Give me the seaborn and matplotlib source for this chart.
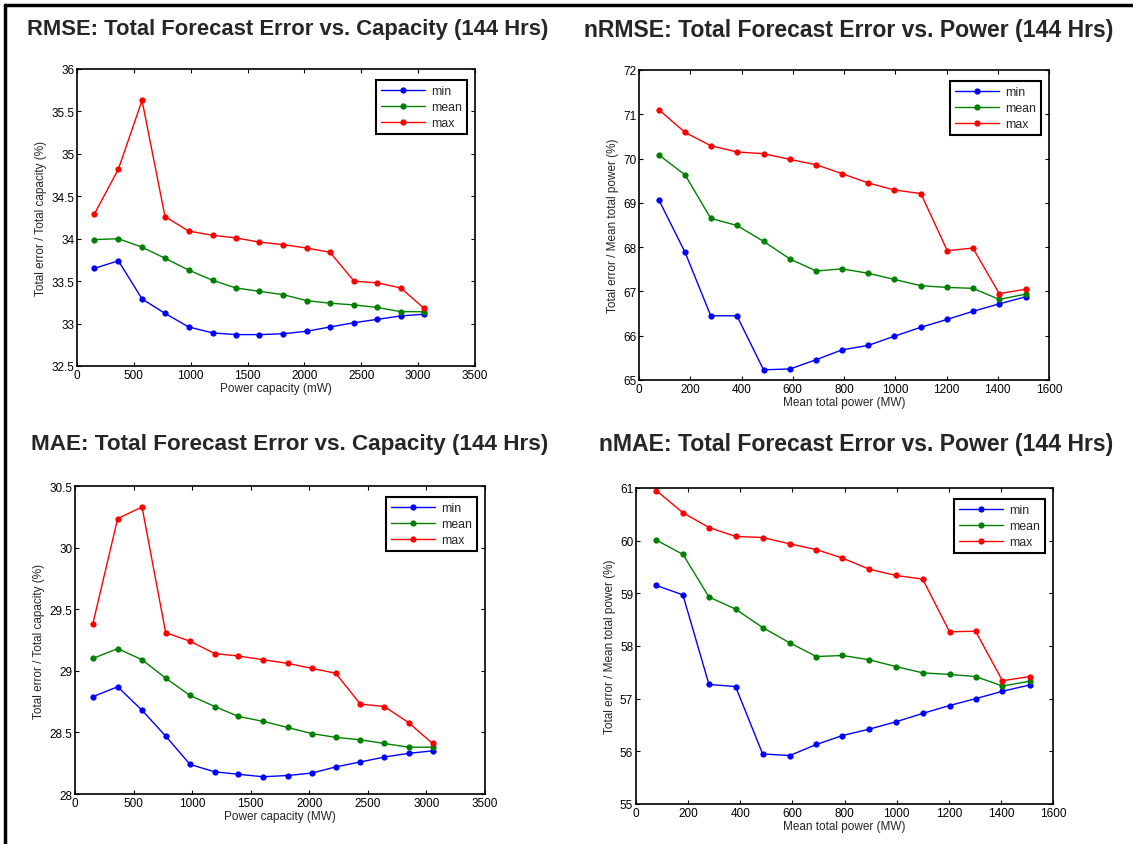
import numpy as np
import pandas as pd
import matplotlib
matplotlib.use('Agg')
import matplotlib.pyplot as plt
import matplotlib.ticker as mticker
import seaborn as sns

# x positions
cap_x = [152, 364, 572, 774, 982, 1193, 1395, 1604, 1815, 2023, 2225, 2436, 2641, 2847, 3052]
pow_x = [78, 180, 280, 382, 486, 590, 692, 792, 894, 997, 1100, 1203, 1303, 1406, 1510]

# RMSE vs capacity
rmse_min = [33.65, 33.74, 33.29, 33.12, 32.96, 32.89, 32.87, 32.87, 32.88, 32.91, 32.96, 33.01, 33.05, 33.09, 33.11]
rmse_mean = [33.99, 34.00, 33.90, 33.77, 33.63, 33.51, 33.42, 33.38, 33.34, 33.27, 33.24, 33.22, 33.19, 33.14, 33.14]
rmse_max = [34.29, 34.82, 35.63, 34.26, 34.09, 34.04, 34.01, 33.96, 33.93, 33.89, 33.84, 33.50, 33.48, 33.42, 33.18]

# nRMSE vs power
nrmse_min = [69.06, 67.88, 66.45, 66.45, 65.23, 65.25, 65.46, 65.68, 65.78, 65.99, 66.19, 66.37, 66.55, 66.72, 66.88]
nrmse_mean = [70.08, 69.63, 68.65, 68.49, 68.13, 67.73, 67.46, 67.51, 67.41, 67.27, 67.13, 67.09, 67.07, 66.82, 66.94]
nrmse_max = [71.10, 70.59, 70.29, 70.15, 70.11, 69.98, 69.86, 69.66, 69.45, 69.29, 69.21, 67.92, 67.98, 66.95, 67.05]

# MAE vs capacity
mae_min = [28.79, 28.87, 28.68, 28.47, 28.24, 28.18, 28.16, 28.14, 28.15, 28.17, 28.22, 28.26, 28.30, 28.33, 28.35]
mae_mean = [29.10, 29.18, 29.09, 28.94, 28.80, 28.71, 28.63, 28.59, 28.54, 28.49, 28.46, 28.44, 28.41, 28.38, 28.38]
mae_max = [29.38, 30.235, 30.33, 29.31, 29.24, 29.14, 29.12, 29.09, 29.06, 29.02, 28.98, 28.73, 28.71, 28.58, 28.41]

# nMAE vs power
nmae_min = [59.15, 58.97, 57.27, 57.23, 55.95, 55.92, 56.13, 56.30, 56.42, 56.56, 56.72, 56.87, 57.00, 57.14, 57.26]
nmae_mean = [60.01, 59.74, 58.93, 58.70, 58.35, 58.06, 57.80, 57.82, 57.74, 57.61, 57.49, 57.46, 57.42, 57.24, 57.33]
nmae_max = [60.95, 60.53, 60.25, 60.08, 60.06, 59.94, 59.83, 59.67, 59.46, 59.34, 59.27, 58.27, 58.28, 57.34, 57.42]

stats = ['min', 'mean', 'max']
palette = {'min': '#0000ff', 'mean': '#008000', 'max': '#ff0000'}

sns.set_style('ticks')
plt.rcParams['font.family'] = ['Liberation Sans', 'DejaVu Sans']

W, H = 1133, 845
fig = plt.figure(figsize=(W / 100, H / 100), dpi=100)

def box(l, t, r, b):
    return [l / W, 1 - b / H, (r - l) / W, (b - t) / H]

panels = [
    dict(lrtb=(77, 475, 70, 367), x=cap_x, ys=[rmse_min, rmse_mean, rmse_max],
         title='RMSE: Total Forecast Error vs. Capacity (144 Hrs)', tx=288, ty=29, tsize=15.8,
         xlabel='Power capacity (mW)', ylabel='Total error / Total capacity (%)',
         xlim=(0, 3500), xstep=500, ylim=(32.5, 36), ystep=0.5),
    dict(lrtb=(639, 1049, 71, 381), x=pow_x, ys=[nrmse_min, nrmse_mean, nrmse_max],
         title='nRMSE: Total Forecast Error vs. Power (144 Hrs)', tx=849, ty=31, tsize=16.6,
         xlabel='Mean total power (MW)', ylabel='Total error / Mean total power (%)',
         xlim=(0, 1600), xstep=200, ylim=(65, 72), ystep=1),
    dict(lrtb=(75, 485, 487, 795), x=cap_x, ys=[mae_min, mae_mean, mae_max],
         title='MAE: Total Forecast Error vs. Capacity (144 Hrs)', tx=290, ty=445, tsize=16.2,
         xlabel='Power capacity (MW)', ylabel='Total error / Total capacity (%)',
         xlim=(0, 3500), xstep=500, ylim=(28, 30.5), ystep=0.5),
    dict(lrtb=(636, 1053, 489, 805), x=pow_x, ys=[nmae_min, nmae_mean, nmae_max],
         title='nMAE: Total Forecast Error vs. Power (144 Hrs)', tx=856, ty=445, tsize=16.6,
         xlabel='Mean total power (MW)', ylabel='Total error / Mean total power (%)',
         xlim=(0, 1600), xstep=200, ylim=(55, 61), ystep=1),
]

for p in panels:
    l, r, t, b = p['lrtb']
    ax = fig.add_axes(box(l, t, r, b))
    frames = []
    for name, vals in zip(stats, p['ys']):
        frames.append(pd.DataFrame({'x': p['x'], 'value': vals, 'stat': name}))
    df = pd.concat(frames, ignore_index=True)
    sns.lineplot(data=df, x='x', y='value', hue='stat', hue_order=stats, palette=palette,
                 marker='o', markersize=4.5, markeredgewidth=0, linewidth=1,
                 sort=False, ax=ax)

    ax.set_xlim(*p['xlim'])
    ax.set_ylim(*p['ylim'])
    ax.xaxis.set_major_locator(mticker.MultipleLocator(p['xstep']))
    ax.yaxis.set_major_locator(mticker.MultipleLocator(p['ystep']))
    ax.xaxis.set_major_formatter(mticker.FormatStrFormatter('%g'))
    ax.yaxis.set_major_formatter(mticker.FormatStrFormatter('%g'))
    ax.tick_params(direction='in', length=3, width=0.8, top=True, right=True,
                   labelsize=8.5, pad=2, colors='black')
    for s in ax.spines.values():
        s.set_visible(True)
        s.set_linewidth(1.2)
        s.set_color('black')
    ax.set_xlabel(p['xlabel'], fontsize=8.5, labelpad=1)
    ax.set_ylabel(p['ylabel'], fontsize=8.5, labelpad=3)

    # legend sits ~8 px in from the right and ~11 px down from the top
    anchor = (1 - 8 / (r - l), 1 - 11 / (b - t))
    handles, labels = ax.get_legend_handles_labels()
    leg = ax.legend(handles, labels, loc='upper right', bbox_to_anchor=anchor,
                    borderaxespad=0, fontsize=8.8, handlelength=3.6, handletextpad=0.5,
                    labelspacing=0.35, borderpad=0.4, fancybox=False, frameon=True,
                    framealpha=1)
    leg.get_frame().set_edgecolor('black')
    leg.get_frame().set_linewidth(1.5)

    fig.text(p['tx'] / W, 1 - p['ty'] / H, p['title'], ha='center', va='center',
             fontsize=p['tsize'], fontweight='bold')

# outer frame seen on the left and top edges
fig.add_artist(plt.Line2D([5 / W, 5 / W], [0, 1 - 6 / H], color='black', lw=2.5,
                          transform=fig.transFigure))
fig.add_artist(plt.Line2D([5 / W, 1], [1 - 6 / H, 1 - 6 / H], color='black', lw=2.5,
                          transform=fig.transFigure))

fig.savefig('out.png', dpi=100, facecolor='white')
